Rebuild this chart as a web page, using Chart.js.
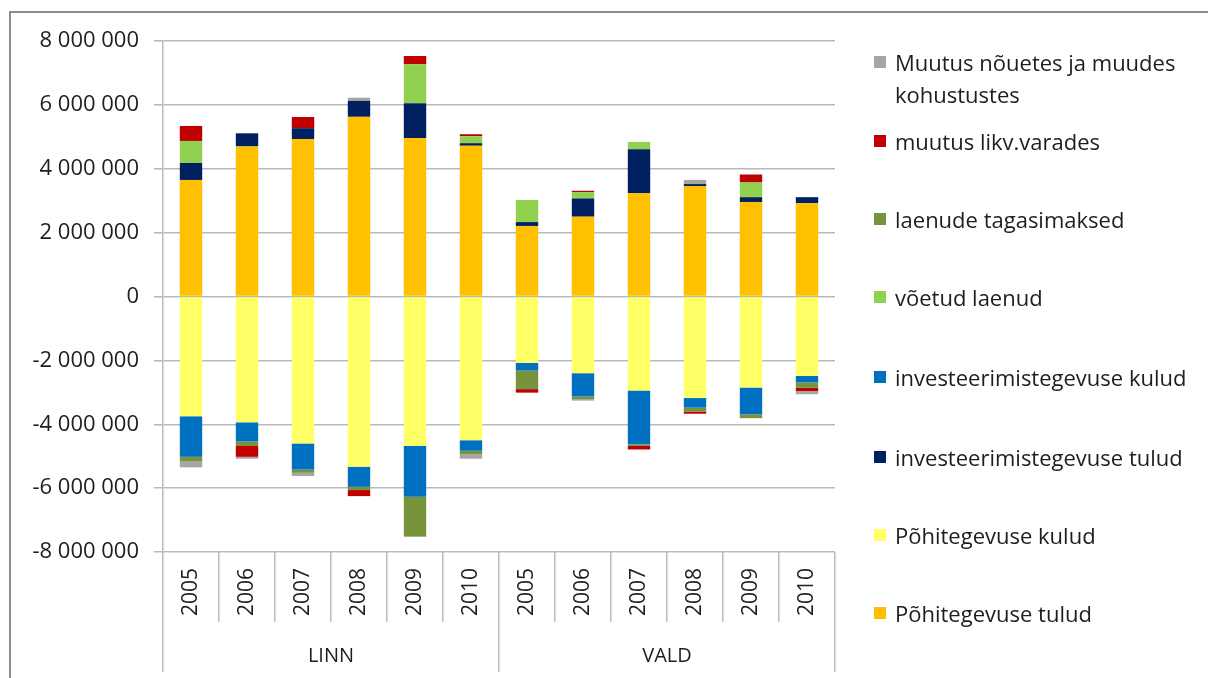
<!DOCTYPE html>
<html>
<head>
<meta charset="utf-8">
<script src="https://cdn.jsdelivr.net/npm/chart.js@4/dist/chart.umd.min.js"></script>
<style>
  html, body { margin: 0; padding: 0; background: #fff; }
  #wrap { position: relative; width: 1208px; height: 678px; overflow: hidden; font-family: "Open Sans", Lato, sans-serif; }
  #frame { position: absolute; left: 9px; top: 11px; width: 1300px; height: 800px; border-left: 2px solid #8c8c8c; border-top: 2px solid #8c8c8c; }
  canvas { position: absolute; left: 0; top: 0; }
  #legend { position: absolute; left: 874px; top: 0; color: #1e1e1e; font-size: 22px; }
  .li { position: absolute; left: 0; white-space: nowrap; line-height: 32px; }
  .sw { position: absolute; left: 0; top: 10px; width: 12px; height: 12px; }
  .tx { position: absolute; left: 21px; top: 0; }
</style>
</head>
<body>
<div id="wrap">
  <div id="frame"></div>
  <canvas id="c" width="1208" height="678"></canvas>
  <div id="legend"></div>
</div>
<script>
const years = ['2005','2006','2007','2008','2009','2010','2005','2006','2007','2008','2009','2010'];
const groups = ['LINN', 'VALD'];

const seriesNames = [
  'Põhitegevuse tulud',
  'Põhitegevuse kulud',
  'investeerimistegevuse tulud',
  'investeerimistegevuse kulud',
  'võetud laenud',
  'laenude tagasimaksed',
  'muutus likv.varades',
  'Muutus nõuetes ja muudes kohustustes'
];
const seriesColors = ['#FFC000', '#FFFF66', '#002060', '#0070C0', '#92D050', '#77933C', '#C00000', '#A6A6A6'];

const pohiTulud   = [3650000, 4700000, 4930000, 5625000, 4960000, 4720000, 2210000, 2500000, 3230000, 3460000, 2960000, 2920000];
const pohiKulud   = [-3750000, -3940000, -4600000, -5330000, -4680000, -4500000, -2080000, -2400000, -2940000, -3180000, -2850000, -2490000];
const invTulud    = [530000, 410000, 340000, 500000, 1090000, 80000, 120000, 570000, 1380000, 60000, 150000, 190000];
const invKulud    = [-1270000, -600000, -820000, -630000, -1590000, -330000, -240000, -730000, -1690000, -300000, -840000, -200000];
const voetudLaenud = [690000, 0, 0, 0, 1220000, 220000, 690000, 200000, 230000, 0, 460000, 0];
const tagasimaksed = [-150000, -140000, -100000, -100000, -1250000, -110000, -580000, -80000, -50000, -130000, -120000, -170000];
const likvVarad   = [470000, -340000, 350000, -190000, 260000, 60000, -110000, 40000, -110000, -60000, 250000, -100000];
const nouded      = [-180000, -60000, -100000, 100000, 0, -140000, 0, -50000, 0, 130000, 0, -100000];

const yTicks = { min: -8000000, max: 8000000, step: 2000000 };

const seriesData = [pohiTulud, pohiKulud, invTulud, invKulud, voetudLaenud, tagasimaksed, likvVarad, nouded];

function fmt(v) {
  const s = String(Math.abs(v)).replace(/\B(?=(\d{3})+(?!\d))/g, ' ');
  return (v < 0 ? '-' : '') + s;
}

const datasets = seriesNames.map((n, i) => ({
  label: n,
  data: seriesData[i],
  backgroundColor: seriesColors[i],
  borderWidth: 0,
  xAxisID: 'x',
  yAxisID: 'y',
  categoryPercentage: 1.0,
  barPercentage: 0.4
}));

const gridCol = '#b9b9b9';
const textCol = '#1e1e1e';

new Chart(document.getElementById('c'), {
  type: 'bar',
  data: { labels: years, datasets },
  options: {
    responsive: false,
    animation: false,
    layout: { padding: { left: 0, right: 373, top: 41, bottom: 6 } },
    plugins: { legend: { display: false }, tooltip: { enabled: false } },
    scales: {
      x: {
        stacked: true,
        position: 'bottom',
        offset: true,
        grid: { offset: true, drawOnChartArea: false, drawTicks: true, tickLength: 70, color: gridCol, lineWidth: 1.5 },
        border: { display: false },
        ticks: { minRotation: 90, maxRotation: 90, autoSkip: false, padding: -54, color: textCol, font: { family: 'Open Sans', size: 21 } },
        afterFit(s) { s.height = 70; }
      },
      x2: {
        type: 'category',
        labels: groups,
        position: 'bottom',
        offset: true,
        grid: { offset: true, drawOnChartArea: false, drawTicks: true, tickLength: 50, color: gridCol, lineWidth: 1.5 },
        border: { display: false },
        ticks: { padding: -28, color: textCol, font: { family: 'Open Sans', size: 20 } },
        afterFit(s) { s.height = 50; }
      },
      y: {
        stacked: true,
        min: yTicks.min,
        max: yTicks.max,
        ticks: { stepSize: yTicks.step, callback: v => fmt(v), padding: 15, color: textCol, font: { family: 'Open Sans', size: 22 } },
        grid: { color: gridCol, lineWidth: 1.5, tickLength: 9 },
        border: { display: true, color: gridCol, width: 1.5 },
        afterFit(s) { s.width = 163; }
      }
    }
  }
});

// HTML legend (reverse order, like the reference)
const legendTops = [46, 125, 203, 281, 361, 441, 519, 597];
const leg = document.getElementById('legend');
const order = seriesNames.map((n, i) => i).reverse();
order.forEach((si, k) => {
  const d = document.createElement('div');
  d.className = 'li';
  d.style.top = legendTops[k] + 'px';
  const sw = document.createElement('div');
  sw.className = 'sw';
  sw.style.background = seriesColors[si];
  const tx = document.createElement('div');
  tx.className = 'tx';
  if (si === 7) {
    tx.innerHTML = 'Muutus nõuetes ja muudes<br>kohustustes';
  } else {
    tx.textContent = seriesNames[si];
  }
  d.appendChild(sw); d.appendChild(tx);
  leg.appendChild(d);
});
</script>
</body>
</html>
